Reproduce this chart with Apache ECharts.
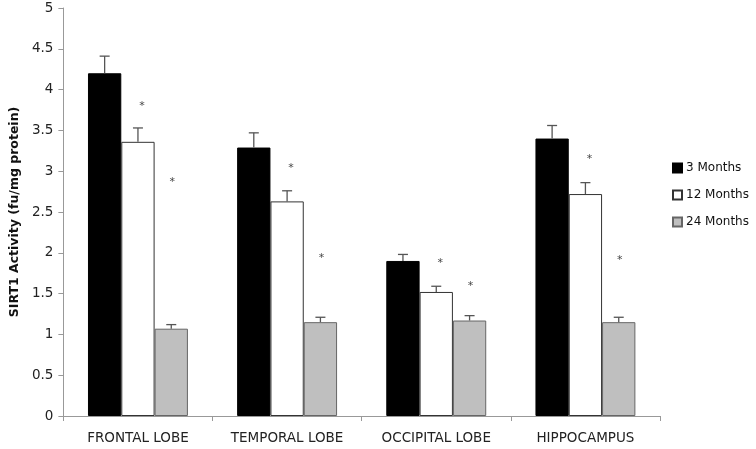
<!DOCTYPE html>
<html><head><meta charset="utf-8">
<script src="https://cdn.jsdelivr.net/npm/echarts@6/dist/echarts.min.js"></script>
<style>html,body{margin:0;padding:0;background:#fff}#c{width:756px;height:449px}</style>
</head><body><div id="c"></div>
<script>
const categories = ['FRONTAL LOBE', 'TEMPORAL LOBE', 'OCCIPITAL LOBE', 'HIPPOCAMPUS'];
const seriesNames = ['3 Months', '12 Months', '24 Months'];
const months3 = [4.20, 3.29, 1.90, 3.40];
const months12 = [3.36, 2.63, 1.52, 2.72];
const months24 = [1.07, 1.15, 1.17, 1.15];
const err3 = [4.41, 3.47, 1.98, 3.56];
const err12 = [3.53, 2.76, 1.59, 2.86];
const err24 = [1.12, 1.21, 1.23, 1.21];
const star12 = [3.83, 3.07, 1.90, 3.18];
const star24 = [2.90, 1.96, 1.62, 1.94];
const yTicks = ['0','0.5','1','1.5','2','2.5','3','3.5','4','4.5','5'];

const font = '"DejaVu Sans", sans-serif';
const catGap = 0.33;
const colors = ['#000000', '#ffffff', '#bfbfbf'];
const borders = ['#000000', '#333333', '#666666'];
const values = [months3, months12, months24];
const errs = [err3, err12, err24];

function barOffset(api, k) {
  const cw = api.size([1, 0])[0];
  const bw = cw * (1 - catGap) / 3;
  return { off: (k - 1) * bw, bw: bw };
}

const errData = [];
errs.forEach((arr, k) => arr.forEach((v, i) => errData.push([i, values[k][i], v, k])));
const starData = [];
star12.forEach((v, i) => starData.push([i, v, 1, 4]));
star24.forEach((v, i) => starData.push([i, v, 2, 1]));

const chart = echarts.init(document.getElementById('c'), null, {renderer: 'canvas'});
chart.setOption({
  animation: false,
  backgroundColor: '#ffffff',
  grid: { left: 62, right: 96, top: 8, bottom: 33 },
  legend: {
    orient: 'vertical', left: 667, top: 157, itemGap: 15,
    itemWidth: 9, itemHeight: 9, icon: 'rect',
    textStyle: { fontFamily: font, fontSize: 12, color: '#111', padding: [0, 0, 0, -1] },
    data: seriesNames
  },
  xAxis: {
    type: 'category', data: categories,
    axisLine: { lineStyle: { color: '#999', width: 1 } },
    axisTick: { show: true, length: 5, lineStyle: { color: '#999' } },
    axisLabel: { fontFamily: font, fontSize: 13.5, color: '#222', margin: 15 }
  },
  yAxis: {
    type: 'value', min: 0, max: 5, interval: 0.5,
    name: 'SIRT1 Activity (fu/mg protein)', nameLocation: 'middle', nameGap: 38,
    nameTextStyle: { fontFamily: font, fontSize: 12.5, fontWeight: 'bold', color: '#111' },
    axisLine: { show: true, lineStyle: { color: '#999' } },
    axisTick: { show: true, length: 5, lineStyle: { color: '#999' } },
    splitLine: { show: false },
    axisLabel: { fontFamily: font, fontSize: 13.5, color: '#222', margin: 10,
      formatter: v => yTicks[Math.round(v * 2)] }
  },
  series: [
    ...seriesNames.map((n, k) => ({
      name: n, type: 'bar', data: values[k], barGap: '0%', barCategoryGap: (catGap * 100) + '%',
      itemStyle: { color: colors[k], borderColor: borders[k], borderWidth: 1 }
    })),
    {
      type: 'custom', data: errData, z: 5, silent: true,
      renderItem: function (params, api) {
        const i = api.value(0), k = api.value(3);
        const o = barOffset(api, k);
        const p0 = api.coord([i, api.value(1)]);
        const p1 = api.coord([i, api.value(2)]);
        const x = p0[0] + o.off;
        return { type: 'group', children: [
          { type: 'line', shape: { x1: x, y1: p0[1], x2: x, y2: p1[1] }, style: { stroke: '#555', lineWidth: 1.3 } },
          { type: 'line', shape: { x1: x - 5, y1: p1[1], x2: x + 5, y2: p1[1] }, style: { stroke: '#555', lineWidth: 1.3 } }
        ]};
      }
    },
    {
      type: 'custom', data: starData, z: 5, silent: true,
      renderItem: function (params, api) {
        const i = api.value(0), k = api.value(2);
        const o = barOffset(api, k);
        const p = api.coord([i, api.value(1)]);
        return { type: 'text', x: p[0] + o.off + api.value(3), y: p[1] - 3,
          style: { text: '*', fontFamily: font, fontSize: 11, fill: '#444', align: 'center', verticalAlign: 'top' } };
      }
    }
  ]
});
</script></body></html>
